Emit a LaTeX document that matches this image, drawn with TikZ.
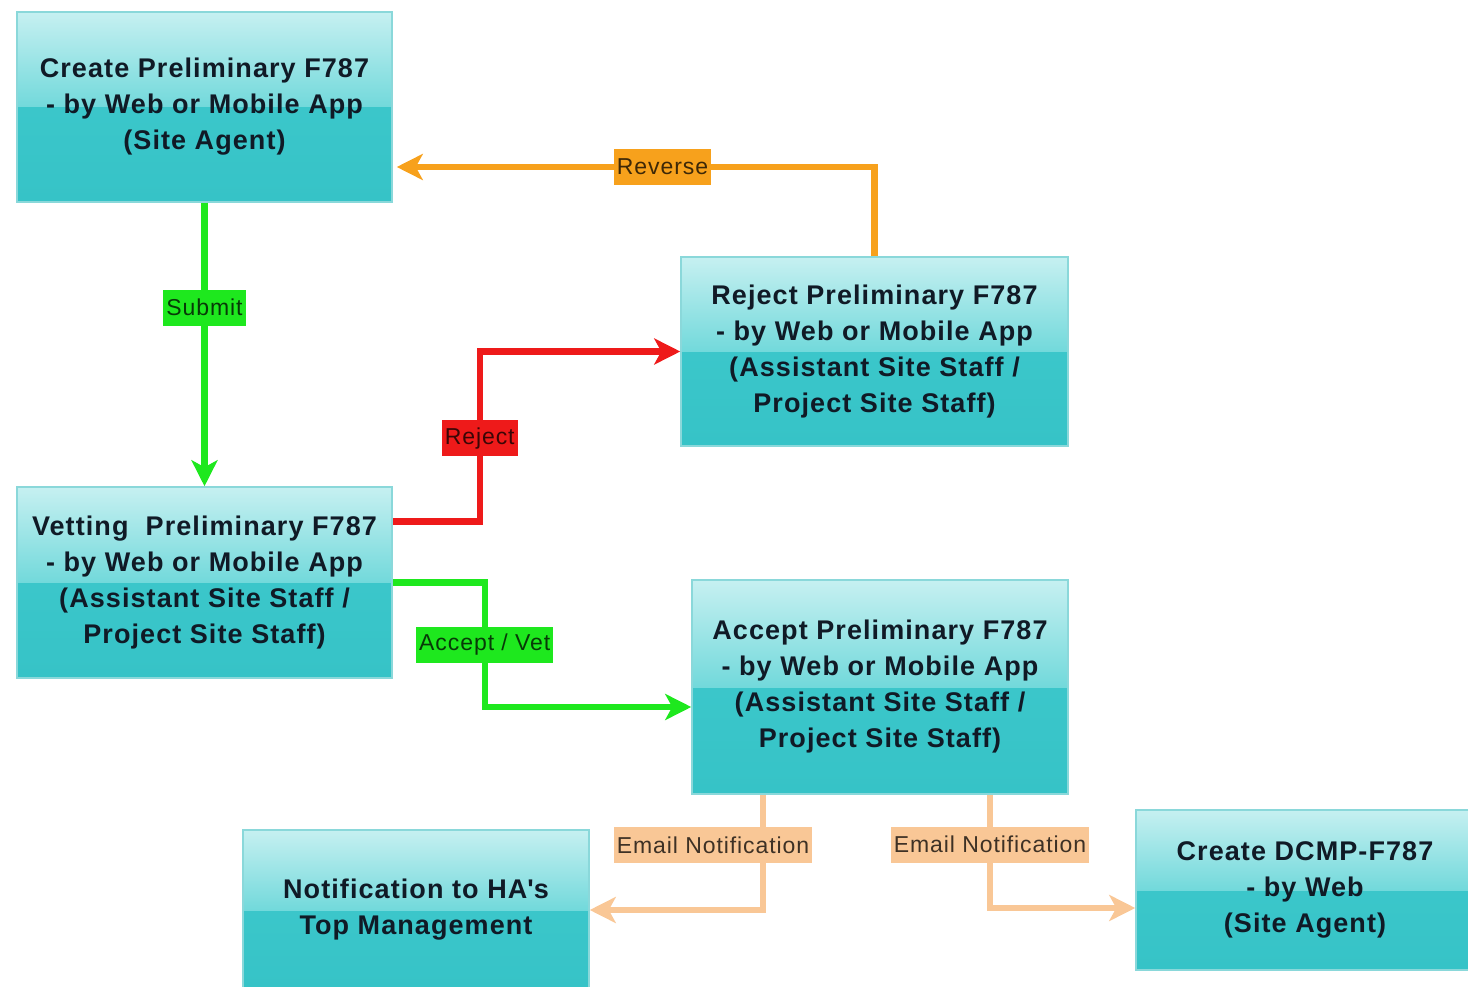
\documentclass[tikz,border=0pt]{standalone}
\usepackage{fontspec}
\setmainfont{Liberation Sans}
\usetikzlibrary{arrows.meta}
\definecolor{boxtop}{HTML}{C6F0F1}
\definecolor{boxmid}{HTML}{72D9DB}
\definecolor{boxlow}{HTML}{40CACD}
\definecolor{boxbot}{HTML}{36C3C7}
\definecolor{boxline}{HTML}{8AD8DA}
\definecolor{flowgreen}{HTML}{1EE81E}
\definecolor{flowred}{HTML}{EE1A1A}
\definecolor{floworange}{HTML}{F7A11C}
\definecolor{flowpeach}{HTML}{F9C796}
\definecolor{inkdark}{HTML}{101A26}
\begin{document}
\begin{tikzpicture}[x=1pt,y=-1pt,
    stage/.style={draw=boxline,line width=1.5pt,align=center,text=inkdark,
      font=\bfseries\fontsize{27}{36}\selectfont\addfontfeature{LetterSpace=4},
      path picture={
        \shade[top color=boxlow,bottom color=boxbot] (path picture bounding box.south west) rectangle (path picture bounding box.north east);
        \shade[top color=boxtop,bottom color=boxmid] (path picture bounding box.north west) rectangle (path picture bounding box.east);
      }},
    flow/.style={line width=6.5pt,-{Stealth[length=26pt,width=26pt,inset=7pt]}},
    tag/.style={fill=#1,inner sep=3pt,minimum height=36pt,text=black,text opacity=0.75,
      font=\fontsize{23}{24}\selectfont\addfontfeature{LetterSpace=4}}]
  \useasboundingbox (0,0) rectangle (1468,987);
  \clip (0,0) rectangle (1468,987);

  % the six steps
  \node[stage,minimum width=375pt,minimum height=190pt] (create) at (204.5,107)
    {Create Preliminary F787\\ - by Web or Mobile App\\ (Site Agent)};
  \node[stage,minimum width=387pt,minimum height=189pt] (reject) at (874.5,351.5)
    {Reject Preliminary F787\\ - by Web or Mobile App\\ (Assistant Site Staff /\\ Project Site Staff)};
  \node[stage,minimum width=375pt,minimum height=191pt] (vet) at (204.5,582.5)
    {Vetting~ Preliminary F787\\ - by Web or Mobile App\\ (Assistant Site Staff /\\ Project Site Staff)};
  \node[stage,minimum width=376pt,minimum height=214pt] (accept) at (880,687)
    {Accept Preliminary F787\\ - by Web or Mobile App\\ (Assistant Site Staff /\\ Project Site Staff)};
  \node[stage,minimum width=346pt,minimum height=160pt] (notify) at (416,910)
    {Notification to HA\textquotesingle s\\ Top Management};
  \node[stage,minimum width=338pt,minimum height=160pt] (dcmp) at (1305,890)
    {Create DCMP-F787\\ - by Web\\ (Site Agent)};

  % flows between them
  \draw[flow,flowgreen] (create) -- node[tag=flowgreen,pos=0.37] {Submit} (vet);
  \draw[flow,floworange,shorten >=4pt] (reject.north) |- node[tag=floworange,pos=0.72] {Reverse} ([yshift=-60pt]create.east);
  \draw[flow,flowred] ([yshift=61pt]vet.east) -- ++(87,0) |- node[tag=flowred,pos=0.245] {Reject} (reject.west);
  \draw[flow,flowgreen] (vet.east) -- ++(92,0) |- node[tag=flowgreen,pos=0.25] {Accept / Vet} ([yshift=-20pt]accept.west);
  \draw[flow,flowpeach] ([xshift=-117pt]accept.south) |- node[tag=flowpeach,pos=0.22,xshift=-50pt] {Email Notification} (notify.east);
  \draw[flow,flowpeach] ([xshift=110pt]accept.south) |- node[tag=flowpeach,pos=0.22] {Email Notification} ([yshift=-18pt]dcmp.west);
\end{tikzpicture}
\end{document}
